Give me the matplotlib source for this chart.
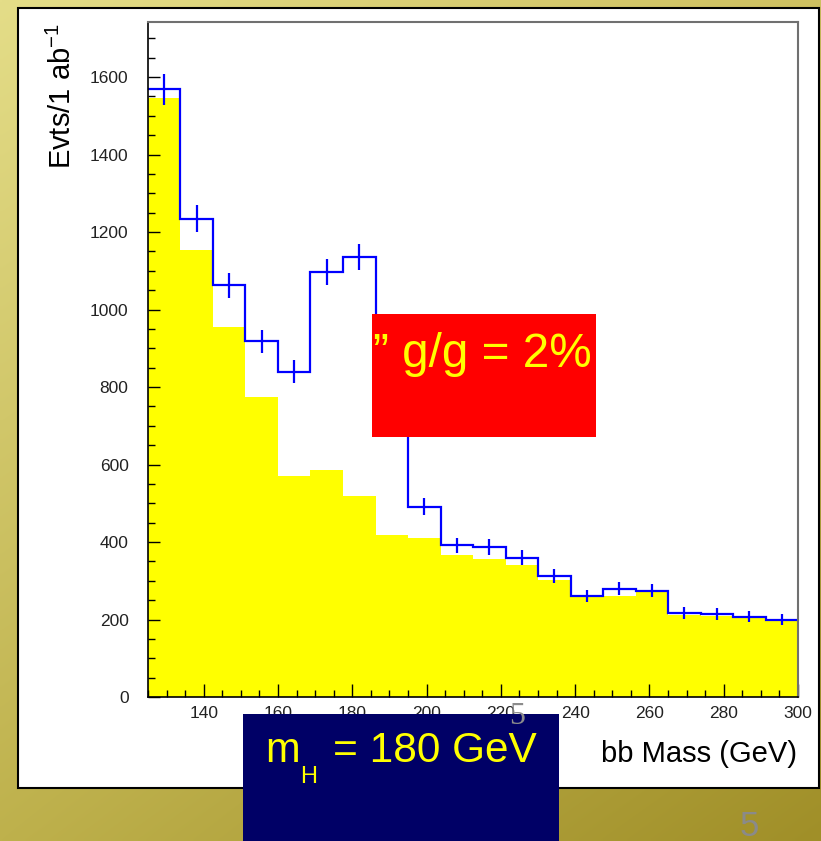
import numpy as np
import matplotlib.pyplot as plt
from matplotlib.patches import Rectangle

plt.rcParams['font.family'] = ['Liberation Sans', 'DejaVu Sans']
plt.rcParams['mathtext.fontset'] = 'custom'
plt.rcParams['mathtext.rm'] = 'Liberation Sans'
plt.rcParams['mathtext.it'] = 'Liberation Sans'

# histogram data (20 bins, 125 - 300 GeV)
edges = np.linspace(125, 300, 21)
background = [1547, 1153, 955, 773, 571, 586, 519, 417, 411, 367,
              357, 341, 302, 257, 261, 271, 212, 210, 204, 197]
total = [1568, 1234, 1062, 918, 840, 1096, 1135, 900, 491, 391,
         387, 360, 312, 261, 280, 274, 217, 214, 207, 199]
centers = 0.5 * (edges[:-1] + edges[1:])
errors = np.sqrt(total)  # poisson errors as drawn by ROOT

W, H = 821, 841
fig = plt.figure(figsize=(W / 100, H / 100), dpi=100)

# slide background with gradient and white panel
bg = fig.add_axes([0, 0, 1, 1], zorder=-10)
bg.set_xlim(0, W)
bg.set_ylim(H, 0)
bg.axis('off')
yy, xx = np.mgrid[0:1:200j, 0:1:200j]
tl = np.array([228, 221, 136])
tr = np.array([206, 192, 96])
bl = np.array([190, 177, 76])
br = np.array([160, 143, 40])
grad = (tl * ((1 - xx) * (1 - yy))[..., None] + tr * (xx * (1 - yy))[..., None]
        + bl * ((1 - xx) * yy)[..., None] + br * (xx * yy)[..., None])
bg.imshow(grad / 255, extent=[0, W, H, 0], aspect='auto', interpolation='bilinear')
bg.add_patch(Rectangle((18, 8), 801, 780, facecolor='white', edgecolor='black', lw=1.5))

# main plot
ax = fig.add_axes([148 / W, 1 - 697 / H, (798 - 148) / W, (697 - 22) / H])
ax.set_facecolor('none')
ax.stairs(background, edges, fill=True, color='#ffff00', lw=0)
ax.stairs(total, edges, color='#0000ff', lw=1.6, baseline=None)
ax.errorbar(centers, total, yerr=errors, fmt='none', ecolor='#0000ff', elinewidth=1.6)

ax.set_xlim(125, 300)
ax.set_ylim(0, 1742)
ax.set_xticks(np.arange(140, 301, 20))
ax.set_xticks(np.arange(125, 301, 5), minor=True)
ax.set_yticks(np.arange(0, 1601, 200))
ax.set_yticks(np.arange(0, 1742, 50), minor=True)
ax.tick_params(direction='in', which='both', colors='black', width=1)
ax.tick_params(which='major', labelsize=12.5, labelcolor='#222222')
ax.tick_params(axis='y', which='major', length=8.6, pad=14)
ax.tick_params(axis='y', which='minor', length=5)
ax.tick_params(axis='x', which='major', length=9.4, pad=6.5)
ax.tick_params(axis='x', which='minor', length=5)
for s in ['top', 'right']:
    ax.spines[s].set_color('#707070')
    ax.spines[s].set_linewidth(1.5)
for s in ['left', 'bottom']:
    ax.spines[s].set_linewidth(1.2)

fig.text(62 / W, 1 - 23 / H, r'Evts/1 ab$^{-1}$', rotation=90, fontsize=21,
         ha='center', va='top')
fig.text(797 / W, 1 - 762 / H, 'bb Mass (GeV)', fontsize=21, ha='right', va='baseline')

# overlay boxes from the slide
fig.add_artist(Rectangle((372 / W, 1 - 437 / H), (596 - 372) / W, (437 - 314) / H,
                         transform=fig.transFigure, facecolor='#ff0000', lw=0, zorder=5))
fig.text(373 / W, 1 - 367 / H, '\u201d g/g = 2%', color='#ffff00', fontsize=34.3,
         va='baseline', zorder=6)

fig.add_artist(Rectangle((243 / W, 0), (559 - 243) / W, 1 - 714 / H,
                         transform=fig.transFigure, facecolor='#000066', lw=0, zorder=5))
fig.text(265 / W, 1 - 762 / H, 'm', color='#ffff00', fontsize=30, va='baseline', zorder=6)
fig.text(300 / W, 1 - 783 / H, 'H', color='#ffff00', fontsize=17, va='baseline', zorder=6)
fig.text(333 / W, 1 - 762 / H, '= 180 GeV', color='#ffff00', fontsize=30.5,
         va='baseline', zorder=6)

# slide numbers
fig.text(517 / W, 1 - 716 / H, '5', family='Liberation Serif', fontsize=23,
         color='#8c8c8c', ha='center', va='center', zorder=7)
fig.text(749 / W, 1 - 826 / H, '5', fontsize=25, color='#8a8a8a',
         ha='center', va='center', zorder=7)

fig.savefig('out.png', dpi=100)
